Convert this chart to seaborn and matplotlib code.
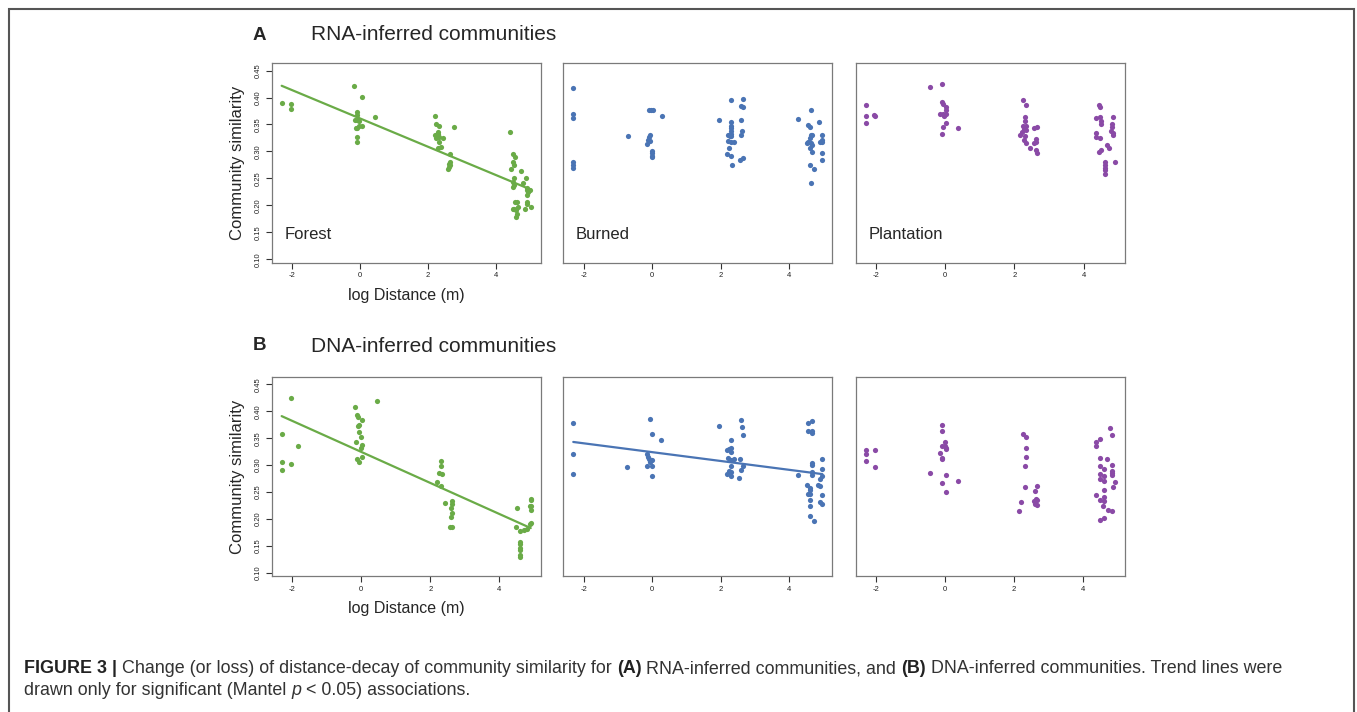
import numpy as np
import pandas as pd
import matplotlib
matplotlib.use("Agg")
import matplotlib.pyplot as plt
from matplotlib.patches import Rectangle
import seaborn as sns

# Data: log distance (x) and community similarity (y)
rna_forest_x = [-2.30, -2.03, -2.03,
                -0.17, 0.05, -0.09, -0.09, -0.13, -0.07, -0.01, 0.05, -0.01, -0.07, -0.11, -0.07, -0.09, 0.45,
                2.21, 2.25, 2.34, 2.21, 2.29, 2.33, 2.25, 2.46, 2.31, 2.34, 2.38, 2.29, 2.77, 2.66, 2.64, 2.62,
                2.62, 2.60, 2.66,
                4.42, 4.52, 4.56, 4.52, 4.54, 4.44, 4.54, 4.52, 4.54, 4.52, 4.74, 4.81, 4.89, 4.93, 4.91, 4.95,
                4.93, 5.01, 4.64, 4.58, 4.54, 4.60, 4.62, 4.60, 4.66, 4.50, 4.93, 4.91, 4.87, 5.03]
rna_forest_y = [0.390, 0.388, 0.379,
                0.422, 0.401, 0.373, 0.368, 0.358, 0.358, 0.357, 0.348, 0.348, 0.343, 0.344, 0.327, 0.317, 0.364,
                0.365, 0.351, 0.348, 0.330, 0.332, 0.326, 0.325, 0.325, 0.336, 0.317, 0.309, 0.306, 0.345, 0.295,
                0.281, 0.276, 0.271, 0.268, 0.275,
                0.336, 0.295, 0.290, 0.281, 0.275, 0.268, 0.250, 0.244, 0.238, 0.234, 0.263, 0.241, 0.251, 0.233,
                0.228, 0.225, 0.219, 0.229, 0.207, 0.207, 0.193, 0.191, 0.184, 0.179, 0.197, 0.193, 0.207, 0.202,
                0.193, 0.197]

rna_burned_x = [-2.31, -2.31, -2.31, -2.31, -2.31, -2.31,
                -0.72, -0.10, -0.04, 0.02, 0.27, -0.08, -0.10, -0.14, -0.06, -0.16, 0.00, 0.00, 0.00, 0.00,
                1.96, 2.31, 2.64, 2.60, 2.64, 2.58, 2.31, 2.31, 2.31, 2.29, 2.29, 2.21, 2.27, 2.31, 2.58, 2.62,
                2.21, 2.31, 2.39, 2.25, 2.19, 2.31, 2.33, 2.56, 2.64,
                4.27, 4.64, 4.87, 4.54, 4.60, 4.64, 4.68, 4.60, 4.56, 4.52, 4.64, 4.68, 4.62, 4.66, 4.95, 4.95,
                4.91, 4.97, 4.95, 4.97, 4.62, 4.74, 4.64]
rna_burned_y = [0.418, 0.369, 0.362, 0.280, 0.275, 0.270,
                0.329, 0.376, 0.376, 0.376, 0.365, 0.331, 0.326, 0.322, 0.320, 0.313, 0.301, 0.297, 0.292, 0.289,
                0.359, 0.395, 0.397, 0.385, 0.383, 0.359, 0.354, 0.348, 0.343, 0.338, 0.333, 0.330, 0.328, 0.328,
                0.330, 0.337, 0.320, 0.317, 0.317, 0.306, 0.295, 0.291, 0.275, 0.284, 0.287,
                0.360, 0.376, 0.354, 0.349, 0.346, 0.331, 0.331, 0.325, 0.318, 0.316, 0.315, 0.311, 0.306, 0.299,
                0.330, 0.322, 0.317, 0.317, 0.297, 0.284, 0.274, 0.268, 0.241]

rna_plant_x = [-2.29, -2.29, -2.29, -2.04, -2.02,
               -0.43, -0.08, -0.08, -0.06, 0.02, 0.02, -0.13, -0.06, -0.02, 0.02, -0.02, 0.02, -0.06, 0.38, -0.10,
               2.25, 2.33, 2.31, 2.31, 2.25, 2.33, 2.29, 2.33, 2.21, 2.17, 2.31, 2.29, 2.33, 2.46, 2.58, 2.67,
               2.63, 2.63, 2.58, 2.62, 2.65,
               4.46, 4.48, 4.37, 4.48, 4.50, 4.50, 4.37, 4.37, 4.48, 4.85, 4.83, 4.81, 4.79, 4.85, 4.85, 4.67,
               4.73, 4.50, 4.46, 4.62, 4.62, 4.62, 4.62, 4.62, 4.90]
rna_plant_y = [0.387, 0.365, 0.353, 0.367, 0.365,
               0.420, 0.425, 0.392, 0.388, 0.383, 0.377, 0.369, 0.369, 0.367, 0.369, 0.365, 0.353, 0.345, 0.344,
               0.332,
               0.395, 0.387, 0.364, 0.356, 0.348, 0.348, 0.342, 0.340, 0.336, 0.331, 0.329, 0.322, 0.316, 0.307,
               0.343, 0.346, 0.323, 0.317, 0.315, 0.302, 0.297,
               0.387, 0.382, 0.362, 0.363, 0.357, 0.351, 0.335, 0.326, 0.324, 0.364, 0.351, 0.346, 0.337, 0.334,
               0.330, 0.312, 0.306, 0.303, 0.299, 0.280, 0.275, 0.270, 0.265, 0.259, 0.280]

dna_forest_x = [-2.30, -2.30, -2.30, -2.03, -2.03, -1.82,
                -0.18, -0.11, -0.09, 0.03, -0.05, -0.09, -0.07, 0.01, -0.14, 0.03, 0.01, 0.03, -0.11, -0.05, 0.45,
                2.30, 2.30, 2.24, 2.34, 2.20, 2.30, 2.43, 2.64, 2.64, 2.60, 2.64, 2.59, 2.57, 2.64,
                4.51, 4.49, 4.60, 4.72, 4.81, 4.60, 4.60, 4.60, 4.60, 4.60, 4.60, 4.91, 4.91, 4.91, 4.88, 4.91,
                4.91, 4.88]
dna_forest_y = [0.357, 0.306, 0.291, 0.425, 0.302, 0.336,
                0.407, 0.393, 0.390, 0.384, 0.374, 0.372, 0.362, 0.352, 0.343, 0.337, 0.331, 0.315, 0.311, 0.306,
                0.419,
                0.307, 0.298, 0.285, 0.284, 0.269, 0.261, 0.230, 0.233, 0.227, 0.220, 0.211, 0.204, 0.186, 0.186,
                0.220, 0.186, 0.178, 0.179, 0.181, 0.158, 0.153, 0.147, 0.142, 0.133, 0.130, 0.238, 0.235, 0.225,
                0.225, 0.216, 0.193, 0.190]

dna_burned_x = [-2.31, -2.31, -2.31, -0.74,
                -0.08, 0.00, 0.25, -0.16, -0.14, -0.10, -0.02, -0.08, -0.16, 0.00, -0.02,
                1.94, 2.60, 2.62, 2.64, 2.29, 2.19, 2.25, 2.29, 2.31, 2.21, 2.29, 2.39, 2.56, 2.64, 2.58, 2.29,
                2.25, 2.31, 2.19, 2.29, 2.54,
                4.25, 4.54, 4.68, 4.56, 4.66, 4.68, 4.66, 4.66, 4.66, 4.66, 4.95, 4.97, 4.95, 4.89, 4.52, 4.62,
                4.62, 4.56, 4.62, 4.85, 4.91, 4.62, 4.62, 4.89, 4.95, 4.95, 4.62, 4.72]
dna_burned_y = [0.378, 0.320, 0.284, 0.296,
                0.385, 0.357, 0.347, 0.321, 0.316, 0.311, 0.310, 0.306, 0.298, 0.298, 0.280,
                0.372, 0.384, 0.370, 0.356, 0.347, 0.328, 0.330, 0.331, 0.325, 0.314, 0.309, 0.311, 0.312, 0.299,
                0.291, 0.298, 0.290, 0.288, 0.284, 0.279, 0.277,
                0.281, 0.379, 0.381, 0.363, 0.364, 0.359, 0.304, 0.300, 0.288, 0.281, 0.311, 0.293, 0.280, 0.274,
                0.263, 0.258, 0.254, 0.247, 0.246, 0.264, 0.262, 0.236, 0.225, 0.232, 0.227, 0.244, 0.205, 0.197]

dna_plant_x = [-2.31, -2.31, -2.31, -2.04, -2.04,
               -0.10, -0.08, 0.00, -0.08, -0.02, 0.02, 0.02, -0.15, -0.10, -0.08, -0.44, 0.02, 0.37, -0.10, 0.02,
               2.25, 2.33, 2.33, 2.33, 2.31, 2.31, 2.21, 2.15, 2.65, 2.60, 2.63, 2.65, 2.58, 2.60, 2.65,
               4.79, 4.85, 4.50, 4.38, 4.38, 4.48, 4.69, 4.50, 4.60, 4.85, 4.85, 4.85, 4.85, 4.92, 4.87, 4.50,
               4.60, 4.50, 4.60, 4.60, 4.37, 4.50, 4.60, 4.60, 4.58, 4.73, 4.85, 4.60, 4.50]
dna_plant_y = [0.328, 0.320, 0.307, 0.328, 0.296,
               0.374, 0.364, 0.343, 0.336, 0.335, 0.332, 0.329, 0.322, 0.314, 0.312, 0.285, 0.281, 0.270, 0.266,
               0.251,
               0.358, 0.353, 0.332, 0.316, 0.298, 0.260, 0.232, 0.215, 0.262, 0.252, 0.238, 0.236, 0.233, 0.228,
               0.226,
               0.369, 0.356, 0.349, 0.343, 0.335, 0.313, 0.311, 0.298, 0.293, 0.300, 0.289, 0.285, 0.282, 0.269,
               0.259, 0.283, 0.279, 0.274, 0.270, 0.254, 0.244, 0.236, 0.240, 0.233, 0.225, 0.217, 0.215, 0.202,
               0.198]

habitats = ["Forest", "Burned", "Plantation"]
colors = ["#6aab47", "#4a74b4", "#8a4aa6"]
rows = [
    ("A", "RNA-inferred communities",
     [(rna_forest_x, rna_forest_y), (rna_burned_x, rna_burned_y), (rna_plant_x, rna_plant_y)],
     [True, False, False]),
    ("B", "DNA-inferred communities",
     [(dna_forest_x, dna_forest_y), (dna_burned_x, dna_burned_y), (dna_plant_x, dna_plant_y)],
     [True, True, False]),
]

sns.set_style("white")
plt.rcParams["font.family"] = ["Liberation Sans", "DejaVu Sans"]

W, H = 1357, 712
fig = plt.figure(figsize=(W / 100, H / 100), dpi=100)

col_left = [271.7, 563.3, 855.7]
ax_w = 269
row_top = [63, 376.7]
ax_h = 199.5
grey = "#7a7a7a"

for r, (letter, title, panels, sig) in enumerate(rows):
    for c in range(3):
        x0 = col_left[c] / W
        y0 = 1 - (row_top[r] + ax_h) / H
        ax = fig.add_axes([x0, y0, ax_w / W, ax_h / H])
        df = pd.DataFrame({"dist": panels[c][0], "sim": panels[c][1]})
        sns.scatterplot(data=df, x="dist", y="sim", color=colors[c], s=14,
                        linewidth=0, ax=ax, zorder=3)
        if sig[c]:
            sns.regplot(data=df, x="dist", y="sim", scatter=False, ci=None,
                        color=colors[c], line_kws={"lw": 1.6}, ax=ax)
        ax.margins(x=0.04)
        ax.set_ylim(0.094, 0.464)
        ax.set_xticks([-2, 0, 2, 4])
        ax.set_xticklabels(["-2", "0", "2", "4"])
        ax.set_yticks(np.arange(0.10, 0.451, 0.05))
        ax.set_yticklabels([f"{v:.2f}" for v in np.arange(0.10, 0.451, 0.05)],
                           rotation=90, va="center")
        ax.tick_params(axis="both", direction="out", length=4, width=0.8,
                       color="#333333", labelsize=5.5, pad=3, labelcolor="#222222")
        ax.tick_params(axis="x", bottom=True)
        ax.tick_params(axis="y", left=True)
        for sp in ax.spines.values():
            sp.set_color(grey)
            sp.set_linewidth(0.9)
        ax.set_xlabel("")
        ax.set_ylabel("")
        if c == 0:
            ax.set_ylabel("Community similarity", fontsize=12, labelpad=7)
            ax.set_xlabel("log Distance (m)", fontsize=11.5, labelpad=6)
        else:
            ax.tick_params(axis="y", left=False, labelleft=False)
        if r == 0:
            ax.text(0.047, 0.14, habitats[c], transform=ax.transAxes,
                    fontsize=12, va="center", ha="left")

    ty = 1 - (35 if r == 0 else 346) / H
    fig.text(253 / W, ty, letter, fontsize=13.5, fontweight="bold", va="center")
    fig.text(311 / W, ty, title, fontsize=15, va="center")

# caption with mixed styles, placed piece by piece on a common baseline
renderer = fig.canvas.get_renderer()
cap_col = "#333333"
cap_size = 12.9
bold = {"fontweight": "bold", "color": "#222222"}


def text_width(s, **kw):
    t = fig.text(0, 0, s, fontsize=cap_size, **kw)
    w = t.get_window_extent(renderer=renderer).width
    t.remove()
    return w


space_w = text_width("a a") - text_width("aa")


def place_line(pieces, x_px, base_px):
    x = x_px
    for txt, kw in pieces:
        core = txt.strip(" ")
        lead = len(txt) - len(txt.lstrip(" "))
        trail = len(txt) - len(txt.rstrip(" "))
        x += lead * space_w
        style = {"fontsize": cap_size, "color": cap_col, "va": "baseline", "ha": "left"}
        style.update(kw)
        t = fig.text(x / W, 1 - base_px / H, core, **style)
        x += t.get_window_extent(renderer=renderer).width + trail * space_w


place_line([("FIGURE 3 | ", bold),
            ("Change (or loss) of distance-decay of community similarity for ", {}),
            ("(A)", bold),
            (" RNA-inferred communities, and ", {}),
            ("(B)", bold),
            (" DNA-inferred communities. Trend lines were", {})], 24, 673)
place_line([("drawn only for significant (Mantel ", {}),
            ("p", {"style": "italic"}),
            (" < 0.05) associations.", {})], 24, 695)

fig.add_artist(Rectangle((8.5 / W, -0.05), (1354 - 8.5) / W, 1.05 - 8.7 / H,
                         transform=fig.transFigure, fill=False,
                         edgecolor="#555555", linewidth=1.5, clip_on=False))

fig.savefig("out.png", dpi=100)
